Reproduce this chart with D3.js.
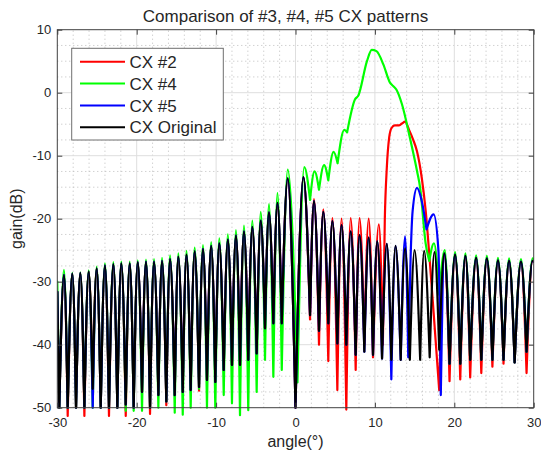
<!DOCTYPE html>
<html><head><meta charset="utf-8">
<script src="https://cdn.jsdelivr.net/npm/d3@7"></script>
<style>body{margin:0;background:#fff}svg{display:block}text{font-family:"Liberation Sans",Arial,Helvetica,sans-serif;fill:#262626}</style>
</head><body><svg id="c" width="541" height="454"></svg>
<script>
// ---------- DATA ----------
const chartTitle = "Comparison of #3, #4, #5 CX patterns";
const xLabel = "angle(°)";
const yLabel = "gain(dB)";
const xTicks = [-30, -20, -10, 0, 10, 20, 30];
const yTicks = [-50, -40, -30, -20, -10, 0, 10];
const seriesNames = ["CX #2", "CX #4", "CX #5", "CX Original"];
const seriesColors = ["#ff0000", "#00ff00", "#0000ff", "#000000"];

// shared angle grid: alternating nulls / lobe peaks (deg)
const gridAngles = [
  -30, -29.75, -29.16, -28.69, -28.11, -27.64, -27.1, -26.59, -26.05, -25.54,
  -25.04, -24.53, -24.0, -23.49, -22.94, -22.44, -21.94, -21.38, -20.88, -20.38,
  -19.87, -19.33, -18.83, -18.32, -17.82, -17.27, -16.81, -16.27, -15.8, -15.21,
  -14.76, -14.2, -13.73, -13.2, -12.7, -12.15, -11.65, -11.15, -10.62, -10.1,
  -9.6, -9.04, -8.52, -8.0, -7.5, -6.99, -6.49, -5.95, -5.44, -4.89,
  -4.38, -3.84, -3.34, -2.79, -2.27, -1.73, -0.98, 0, 1.0, 1.83,
  2.33, 2.96, 3.5, 4.13, 4.65, 5.27, 5.8, 6.4, 6.95, 7.58,
  8.07, 8.67, 9.22, 9.76, 10.3, 10.9, 11.5, 12.07, 12.6, 13.25,
  13.8, 14.4, 15.0, 15.7, 16.2, 16.9, 17.5, 18.1, 18.75, 19.4,
  20.1, 20.75, 21.4, 22.0, 22.75, 23.4, 24.1, 24.8, 25.5, 26.2,
  26.9, 27.6, 28.4, 29.1, 29.85, 30
];

// CX Original (black), dB on the grid
const gainOriginal = [
  -31.6, -50, -28.9, -50, -28.7, -50, -28.6, -50, -28.4, -47,
  -27.9, -50, -27.4, -50, -27.2, -50, -27.1, -49.5, -27.1, -50,
  -26.9, -47.5, -26.8, -50, -26.8, -48, -26.7, -49, -26.4, -48,
  -26.0, -47.5, -25.7, -47.2, -25.2, -46.7, -24.8, -45.6, -24.3, -45.9,
  -23.9, -44, -23.3, -43.2, -22.7, -43.2, -22.0, -42.4, -21.3, -41.4,
  -20.3, -37.4, -19.0, -36.6, -17.5, -36.6, -13.6, -50, -13.4, -35.3,
  -17.2, -37.8, -18.9, -36.6, -20.4, -39.8, -21.0, -40, -22.0, -41.6,
  -22.6, -41.1, -23.0, -41.6, -23.6, -42.2, -24.0, -42.4, -24.3, -42.4,
  -24.7, -42.4, -25.0, -42.4, -25.1, -42, -25.3, -40.8, -25.5, -43,
  -25.7, -43, -25.9, -42.4, -26.2, -42.4, -26.3, -42.4, -26.6, -42.4,
  -26.7, -42.8, -26.8, -41.1, -26.7, -26.8
];

// CX #2 (red); null = replaced by its own beam points below
const gainCX2 = [
  -31.6, -50, -28.9, -51.3, -28.7, -50, -28.6, -51.3, -28.4, -47,
  -27.9, -50, -27.4, -51.3, -27.2, -50, -27.1, -51.3, -27.1, -50,
  -26.9, -47.5, -26.8, -51, -26.8, -48, -26.7, -49.6, -26.4, -48,
  -26.0, -47.5, -25.7, -47.2, -25.2, -47.3, -24.8, -45.6, -24.3, -45.9,
  -23.9, -44, -23.3, -43.2, -22.7, -43.2, -22.0, -42.4, -21.3, -41.4,
  -20.3, -37.4, -19.0, -36.6, -17.5, -36.6, -13.6, -50, -13.4, -36,
  -16.9, -40, -18.5, -42.6, -19.9, -47.2, -20.0, -50.3, -19.9, -44,
  -19.9, -40, -20.0, null, null, null, null, null, null, null,
  null, null, null, null, null, null, null, null, -25.5, -45.8,
  -25.7, -45.5, -25.9, -45.2, -26.2, -44.5, -26.3, -43.5, -26.6, -43,
  -26.7, -42.8, -26.8, -44.5, -26.7, -26.8
];
const beamAnglesCX2 = [9.76, 10.5, 11.0, 11.25, 11.5, 11.8, 12.1, 12.5, 13.0, 13.4, 13.8, 14.3, 14.8, 15.3, 15.9, 16.4, 16.9, 17.4, 18.1];
const beamGainCX2   = [-42, -20.9, -40, -20, -11.9, -7.1, -5.6, -5.2, -5.2, -4.9, -4.6, -5.9, -7.4, -9.3, -13.5, -18.8, -26.5, -35, -47.2];

// CX #4 (green)
const gainCX4 = [
  -30, -50, -28.1, -50, -28.6, -50, -28.5, -50, -28.2, -50,
  -27.6, -50, -27.1, -50, -26.9, -50, -26.8, -50.5, -26.8, -50.5,
  -26.6, -50.5, -26.5, -50, -26.4, -50, -26.2, -49, -25.8, -50.8,
  -25.5, -51.1, -25.1, -50, -24.6, -47, -24.2, -50, -23.7, -50,
  -23.1, -48, -22.5, -49.3, -21.8, -51.2, -21.1, -50.4, -20.3, -47.5,
  -18.9, -42.4, -17.7, -45.1, -15.9, -44, null, null, null, null,
  null, null, null, null, null, null, null, null, null, null,
  null, null, null, null, null, null, null, null, null, null,
  null, null, null, null, null, null, null, null, null, -43,
  -25.3, -43, -25.5, -42.4, -25.8, -42.4, -25.9, -42.4, -26.2, -42.4,
  -26.3, -42.8, -26.4, -41.1, -26.3, -26.4
];
const beamAnglesCX4 = [-0.98, 0.25, 1.1, 1.83, 2.4, 2.96, 3.6, 4.13, 4.8, 5.3, 6.15, 6.5, 7.5, 7.9, 9.0, 9.6, 10.2, 11.06, 11.9, 12.3, 12.7, 13.4, 14.4, 15.3, 15.7, 16.4, 16.85, 17.44, 18.1, 18.8];
const beamGainCX4   = [-12.2, -46, -11.8, -17, -12.5, -15.4, -11.5, -13.9, -9.4, -11.2, -5.9, -6.3, -1.05, -0.5, 5.0, 6.8, 6.6, 4.5, 1.6, 1.06, 0.5, -1.8, -7.1, -12.4, -15.1, -24, -26.7, -23.9, -32, -25.0];

// CX #5 (blue)
const gainCX5 = [
  -31.6, -50, -28.9, -50, -28.7, -50, -28.6, -50, -28.4, -50,
  -27.9, -50, -27.4, -50, -27.2, -50, -27.1, -49.5, -27.1, -50,
  -26.9, -47.5, -26.8, -50, -26.8, -48, -26.7, -49, -26.4, -48,
  -26.0, -47.5, -25.7, -47.2, -25.2, -46.7, -24.8, -45.6, -24.3, -45.9,
  -23.9, -44, -23.3, -43.2, -22.7, -43.2, -22.0, -42.4, -21.3, -41.4,
  -20.3, -37.4, -19.0, -36.6, -17.5, -36.6, -13.6, -50, -13.4, -35.3,
  -17.2, -37.8, -18.9, -36.6, -20.4, -39.8, -21.0, -40, -22.0, -41.6,
  -22.6, -41.1, -23.0, -41.6, -23.6, -42.2, -24.0, -45.5, null, null,
  null, null, null, null, null, null, null, null, -25.5, -43,
  -25.7, -43, -25.9, -42.4, -26.2, -42.4, -26.3, -42.4, -26.6, -42.4,
  -26.7, -42.8, -26.8, -41.1, -26.7, -26.8
];
const beamAnglesCX5 = [12.6, 13.25, 13.8, 14.2, 14.5, 14.75, 15.3, 15.9, 16.5, 17.4, 18.0, 18.3];
const beamGainCX5   = [-24.3, -42.4, -22.8, -42, -26, -18.8, -15.1, -17.2, -21.7, -19.3, -25, -48];

// ---------- CHART ----------
const W = 541, H = 454;
const svg = d3.select("#c");
const x = d3.scaleLinear().domain([-30, 30]).range([57.3, 533.7]);
const y = d3.scaleLinear().domain([-50, 10]).range([407.7, 29.7]);
const [x0, x1] = x.range(), [yb, yt] = y.range();

svg.append("rect").attr("width", W).attr("height", H).attr("fill", "#fff");

// minor grid (dotted) and major grid (solid)
const xMinor = d3.range(-30, 30.001, 2).filter(v => v % 10 !== 0);
const yMinor = d3.range(-50, 10.001, 2.5).filter(v => v % 10 !== 0);
const grid = svg.append("g");
grid.selectAll(".xm").data(xMinor).join("line")
  .attr("x1", d => x(d)).attr("x2", d => x(d)).attr("y1", yb).attr("y2", yt)
  .attr("stroke", "#bdbdbd").attr("stroke-width", 1).attr("stroke-dasharray", "1,3");
grid.selectAll(".ym").data(yMinor).join("line")
  .attr("x1", x0).attr("x2", x1).attr("y1", d => y(d)).attr("y2", d => y(d))
  .attr("stroke", "#bdbdbd").attr("stroke-width", 1).attr("stroke-dasharray", "1,3");
grid.selectAll(".xM").data(xTicks.slice(1, -1)).join("line")
  .attr("x1", d => x(d)).attr("x2", d => x(d)).attr("y1", yb).attr("y2", yt)
  .attr("stroke", "#dedede").attr("stroke-width", 1);
grid.selectAll(".yM").data(yTicks.slice(1, -1)).join("line")
  .attr("x1", x0).attr("x2", x1).attr("y1", d => y(d)).attr("y2", d => y(d))
  .attr("stroke", "#dedede").attr("stroke-width", 1);

// series
function buildPoints(gains, beamA, beamG) {
  const lo = beamA ? beamA[0] : Infinity, hi = beamA ? beamA[beamA.length - 1] : -Infinity;
  const pts = [];
  gridAngles.forEach((a, i) => {
    if (gains[i] === null) return;
    if (a >= lo && a <= hi) return;
    pts.push([a, gains[i]]);
  });
  if (beamA) beamA.forEach((a, i) => pts.push([a, beamG[i]]));
  pts.sort((p, q) => p[0] - q[0]);
  return pts;
}
const line = d3.line().x(d => x(d[0])).y(d => y(d[1])).curve(d3.curveMonotoneX);
function pathFor(pts) {
  // split at local minima so nulls are cusps, lobes rounded
  const segs = [];
  let s = 0;
  for (let i = 1; i < pts.length - 1; i++) {
    if (pts[i][1] < pts[i - 1][1] && pts[i][1] < pts[i + 1][1]) {
      segs.push(pts.slice(s, i + 1));
      s = i;
    }
  }
  segs.push(pts.slice(s));
  return segs.map(sg => line(sg)).join("");
}

const defs = svg.append("defs");
defs.append("clipPath").attr("id", "clip").append("rect")
  .attr("x", x0).attr("y", yt).attr("width", x1 - x0).attr("height", yb - yt + 10);

const series = [
  buildPoints(gainCX2, beamAnglesCX2, beamGainCX2),
  buildPoints(gainCX4, beamAnglesCX4, beamGainCX4),
  buildPoints(gainCX5, beamAnglesCX5, beamGainCX5),
  buildPoints(gainOriginal, null, null)
];
const gLines = svg.append("g").attr("clip-path", "url(#clip)");
series.forEach((pts, k) => {
  gLines.append("path").attr("d", pathFor(pts)).attr("fill", "none")
    .attr("stroke", seriesColors[k]).attr("stroke-width", 2.2)
    .attr("stroke-linejoin", "round").attr("stroke-linecap", "round");
});

// axes (ticks inward, box)
const fmt = d => String(d);
const axB = svg.append("g").attr("transform", `translate(0,${yb})`)
  .call(d3.axisBottom(x).tickValues(xTicks).tickSizeInner(-5).tickSizeOuter(0).tickPadding(10).tickFormat(fmt));
const axT = svg.append("g").attr("transform", `translate(0,${yt})`)
  .call(d3.axisTop(x).tickValues(xTicks).tickSizeInner(-5).tickSizeOuter(0).tickFormat(""));
const axL = svg.append("g").attr("transform", `translate(${x0},0)`)
  .call(d3.axisLeft(y).tickValues(yTicks).tickSizeInner(-5).tickSizeOuter(0).tickPadding(6).tickFormat(fmt));
const axR = svg.append("g").attr("transform", `translate(${x1},0)`)
  .call(d3.axisRight(y).tickValues(yTicks).tickSizeInner(-5).tickSizeOuter(0).tickFormat(""));
[axB, axT, axL, axR].forEach(g => {
  g.select(".domain").remove();
  g.selectAll(".tick line").attr("stroke", "#404040");
  g.selectAll(".tick text").attr("fill", "#262626").style("font-size", "13px")
    .style("font-family", '"Liberation Sans", Arial, sans-serif');
});
svg.append("rect").attr("x", x0).attr("y", yt).attr("width", x1 - x0).attr("height", yb - yt)
  .attr("fill", "none").attr("stroke", "#404040").attr("stroke-width", 1);

// labels
svg.append("text").attr("x", 285.5).attr("y", 22).attr("text-anchor", "middle")
  .style("font-size", "17px").text(chartTitle);
svg.append("text").attr("x", (x0 + x1) / 2).attr("y", 447).attr("text-anchor", "middle")
  .style("font-size", "16px").text(xLabel);
svg.append("text").attr("transform", `translate(22,${(yb + yt) / 2}) rotate(-90)`)
  .attr("text-anchor", "middle").style("font-size", "16px").text(yLabel);

// legend
const lg = svg.append("g");
lg.append("rect").attr("x", 71.7).attr("y", 48.3).attr("width", 151.6).attr("height", 91.7)
  .attr("fill", "#fff").attr("stroke", "#6f6f6f").attr("stroke-width", 1);
seriesNames.forEach((name, k) => {
  const cy = 61.7 + k * 21.85;
  lg.append("line").attr("x1", 80).attr("x2", 125).attr("y1", cy).attr("y2", cy)
    .attr("stroke", seriesColors[k]).attr("stroke-width", 2);
  lg.append("text").attr("x", 129.5).attr("y", cy).attr("dy", "0.36em")
    .style("font-size", "17px").text(name);
});
</script></body></html>
